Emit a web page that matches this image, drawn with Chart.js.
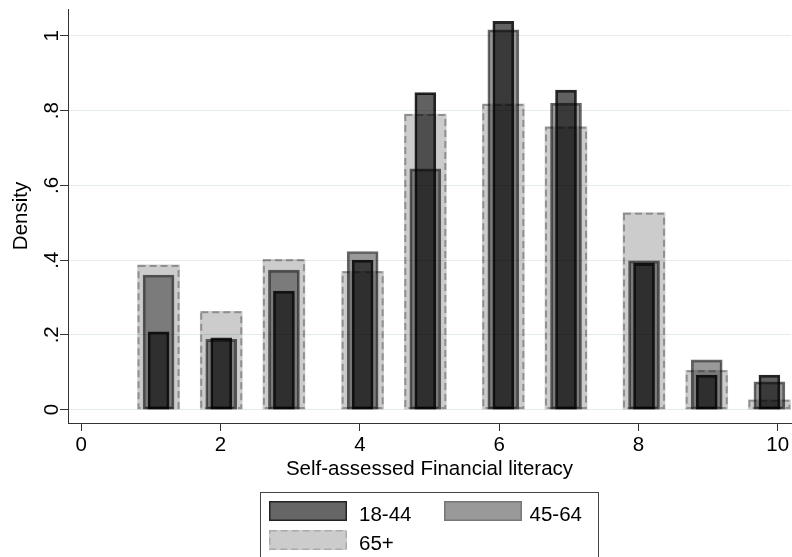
<!DOCTYPE html>
<html>
<head>
<meta charset="utf-8">
<script src="https://cdn.jsdelivr.net/npm/chart.js@4.4.1/dist/chart.umd.min.js"></script>
<style>
  html, body { margin: 0; padding: 0; background: #fff; }
  #wrap { width: 792px; height: 557px; }
</style>
</head>
<body>
<div id="wrap"><canvas id="histChart" width="792" height="557"></canvas></div>
<script>
// literacy score bins and where each bar sits on the x axis
const scores = [1, 2, 3, 4, 5, 6, 7, 8, 9, 10];
const binMids = [1.11, 2.01, 2.91, 4.04, 4.94, 6.06, 6.96, 8.08, 8.98, 9.88];

// densities by age group
const ageGroups = ['18-44', '45-64', '65+'];
const young = [0.208, 0.192, 0.317, 0.400, 0.848, 1.039, 0.855, 0.391, 0.092, 0.092];
const middle = [0.360, 0.188, 0.373, 0.423, 0.644, 1.016, 0.820, 0.398, 0.133, 0.074];
const older = [0.387, 0.263, 0.402, 0.370, 0.791, 0.818, 0.757, 0.527, 0.105, 0.026];

const xTicks = [0, 2, 4, 6, 8, 10];
const yTicks = [0, 0.2, 0.4, 0.6, 0.8, 1];
const yTickLabels = ['0', '.2', '.4', '.6', '.8', '1'];

const FONT = "'Liberation Sans', Arial, Helvetica, sans-serif";
Chart.defaults.font.family = FONT;
Chart.defaults.font.size = 20.5;
Chart.defaults.color = '#000';

function pts(vals) {
  return vals.map((v, i) => ({ x: binMids[i], y: v }));
}

// 65+ bars get a dashed outline, bar elements can't dash their border
const dashedOutline = {
  id: 'dashedOutline',
  afterDatasetsDraw(chart) {
    const meta = chart.getDatasetMeta(2);
    const { ctx, chartArea: a } = chart;
    ctx.save();
    ctx.beginPath();
    ctx.rect(a.left, a.top, a.right - a.left, a.bottom - a.top);
    ctx.clip();
    ctx.setLineDash([7, 4]);
    ctx.lineWidth = 2;
    ctx.strokeStyle = 'rgba(0,0,0,0.3)';
    meta.data.forEach(bar => {
      const { x, y, base, width } = bar.getProps(['x', 'y', 'base', 'width'], true);
      ctx.strokeRect(x - width / 2 + 1, y + 1, width - 2, base - y - 2);
    });
    ctx.restore();
  }
};

// stata style legend box under the axis title
const boxLegend = {
  id: 'boxLegend',
  afterDraw(chart) {
    const ctx = chart.ctx;
    const swatches = [
      { fill: '#666', line: '#222', dash: [] },
      { fill: '#999', line: '#777', dash: [] },
      { fill: '#ccc', line: '#aaa', dash: [7, 4] }
    ];
    const spots = [[269, 501, 359], [444, 501, 529.5], [269, 530, 359]];
    ctx.save();
    ctx.strokeStyle = '#444';
    ctx.lineWidth = 1;
    ctx.strokeRect(260.5, 492.5, 338, 80);
    chart.data.datasets.forEach((ds, i) => {
      const [sx, sy, tx] = spots[i];
      const sw = swatches[i];
      ctx.fillStyle = sw.fill;
      ctx.fillRect(sx, sy, 78, 20);
      ctx.setLineDash(sw.dash);
      ctx.strokeStyle = sw.line;
      ctx.lineWidth = 1.5;
      ctx.strokeRect(sx + 0.75, sy + 0.75, 76.5, 18.5);
      ctx.setLineDash([]);
      ctx.fillStyle = '#000';
      ctx.font = '20.5px ' + FONT;
      ctx.textBaseline = 'alphabetic';
      ctx.fillText(ds.label, tx, sy + 19.5);
    });
    ctx.restore();
  }
};

new Chart(document.getElementById('histChart'), {
  type: 'bar',
  data: {
    datasets: [
      {
        label: ageGroups[0],
        data: pts(young),
        backgroundColor: 'rgba(0,0,0,0.62)',
        borderColor: 'rgba(0,0,0,0.85)',
        borderWidth: 2,
        barThickness: 21,
        order: 3
      },
      {
        label: ageGroups[1],
        data: pts(middle),
        backgroundColor: 'rgba(0,0,0,0.4)',
        borderColor: 'rgba(0,0,0,0.6)',
        borderWidth: 2,
        barThickness: 31,
        order: 2
      },
      {
        label: ageGroups[2],
        data: pts(older),
        backgroundColor: 'rgba(0,0,0,0.2)',
        borderWidth: 0,
        barThickness: 42,
        order: 1
      }
    ]
  },
  options: {
    responsive: false,
    devicePixelRatio: 1,
    animation: false,
    events: [],
    grouped: false,
    borderSkipped: false,
    layout: { padding: { top: 9, right: 1, left: 0, bottom: 0 } },
    plugins: {
      legend: { display: false },
      tooltip: { enabled: false }
    },
    scales: {
      x: {
        type: 'linear',
        offset: false,
        min: -0.19,
        max: 10.19,
        afterBuildTicks: s => { s.ticks = xTicks.map(v => ({ value: v })); },
        afterFit: s => {
          s.height = 134;
          s.paddingLeft = 0;
          s.paddingRight = 0;
        },
        ticks: { padding: 2, maxRotation: 0, autoSkip: false },
        grid: { offset: false, drawOnChartArea: false, tickColor: '#333', tickLength: 8 },
        border: { color: '#333', width: 1 },
        title: {
          display: true,
          text: 'Self-assessed Financial literacy',
          padding: { top: 0, bottom: 75 }
        }
      },
      y: {
        type: 'linear',
        min: -0.036,
        max: 1.072,
        afterBuildTicks: s => { s.ticks = yTicks.map(v => ({ value: v })); },
        afterFit: s => {
          s.width = 68;
          s.paddingTop = 0;
          s.paddingBottom = 0;
        },
        ticks: {
          minRotation: 90,
          maxRotation: 90,
          crossAlign: 'center',
          padding: -1,
          callback: (v, i) => yTickLabels[i]
        },
        grid: { color: '#e3ebee', tickColor: '#333', tickLength: 8 },
        border: { color: '#333', width: 1 },
        title: {
          display: true,
          text: 'Density',
          padding: { top: 9, bottom: 0 }
        }
      }
    }
  },
  plugins: [dashedOutline, boxLegend]
});
</script>
</body>
</html>
